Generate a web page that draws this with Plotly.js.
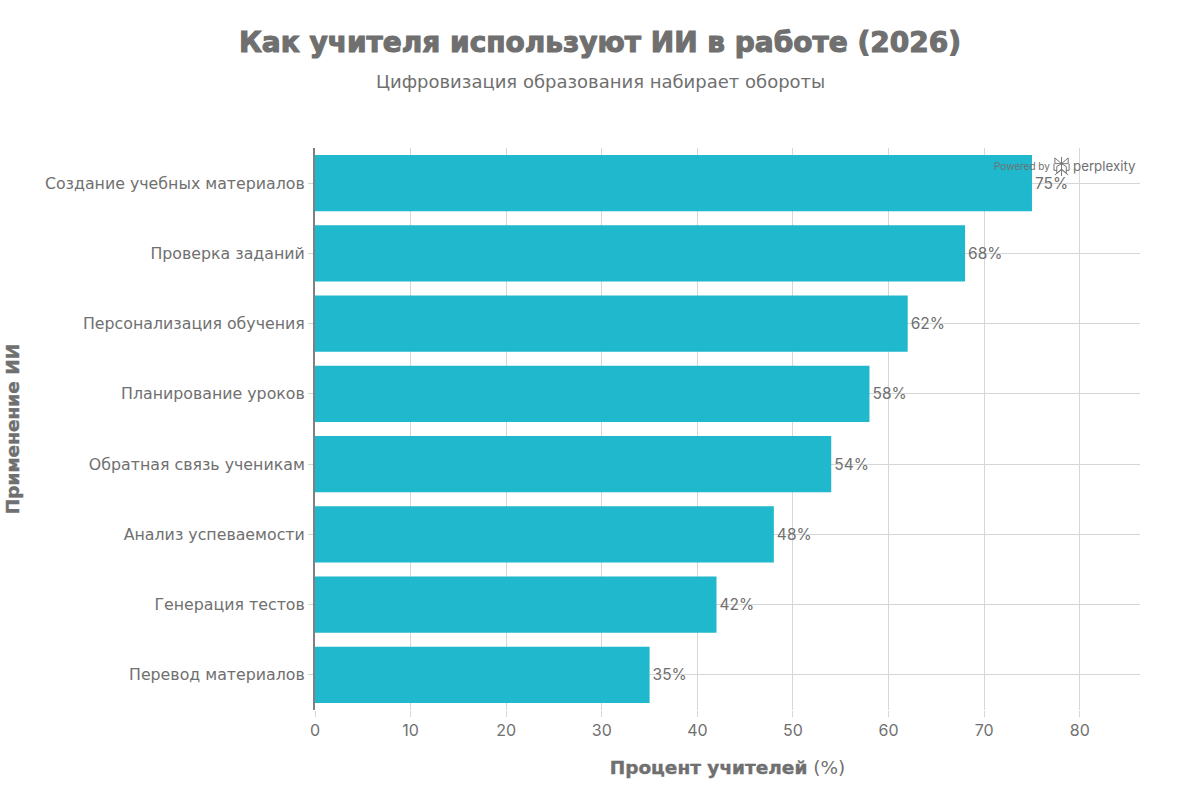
<!DOCTYPE html>
<html><head><meta charset="utf-8">
<script src="https://cdn.plot.ly/plotly-3.0.1.min.js"></script>
<style>html,body{margin:0;padding:0;background:#fff}
.gtitle{stroke:#6f6f6f;stroke-width:1.1px}
.g-ytitle text,.g-xtitle text tspan[style*="bold"]{stroke:#6f6f6f;stroke-width:.4px}
</style></head>
<body><div id="chart" style="width:1200px;height:800px"></div>
<script>
const categories = ["Перевод материалов","Генерация тестов","Анализ успеваемости","Обратная связь ученикам","Планирование уроков","Персонализация обучения","Проверка заданий","Создание учебных материалов"];
const values = [35,42,48,54,58,62,68,75];
const labels = ["35%","42%","48%","54%","58%","62%","68%","75%"];
const xTicks = [0,10,20,30,40,50,60,70,80];
const TXT = "#707070", GRID = "#d6d6d6";
const logo = "data:image/svg+xml;utf8," + encodeURIComponent('<svg xmlns="http://www.w3.org/2000/svg" viewBox="0 0 20 20"><g fill="none" stroke="#6f6f6f" stroke-width="1"><path d="M10 0V20M3 1L10 7L17 1M3 19L10 13L17 19M3 1V7H17V1M2 7V14H5M18 7V14H15M5 10L10 7L15 10M5 10V17L10 13L15 17V10"/></g></svg>');
const L = 314.6, W = 825.4, T = 148, H = 562;
Plotly.newPlot("chart", [{
  type:"bar", orientation:"h", x:values, y:categories,
  marker:{color:"#1fb8cd"}, text:labels, textposition:"outside", cliponaxis:false,
  textfont:{family:"Inter, sans-serif", size:15.5, color:TXT}, hoverinfo:"skip"
}], {
  width:1200, height:800, paper_bgcolor:"#fff", plot_bgcolor:"#fff", showlegend:false,
  margin:{l:L,r:60,t:T,b:90,pad:0}, bargap:0.2,
  font:{family:"DejaVu Sans, sans-serif", color:TXT},
  title:{text:"<b>Как учителя используют ИИ в работе (2026)</b>", x:0.5, xanchor:"center", y:0.947, yanchor:"middle",
    font:{family:"DejaVu Sans", size:28, color:TXT}},
  xaxis:{range:[0,86.3], tickvals:xTicks, ticks:"outside", ticklen:6, tickcolor:GRID, gridcolor:GRID, gridwidth:1, zeroline:false, showline:false,
    tickfont:{family:"Inter, sans-serif", size:16, color:TXT},
    title:{text:"<b>Процент учителей</b> (%)", font:{family:"DejaVu Sans", size:18.5, color:TXT}, standoff:21}},
  yaxis:{ticks:"outside", ticklen:5, tickcolor:GRID, gridcolor:GRID, gridwidth:1, showline:true, linecolor:"#808080", linewidth:2, zeroline:false,
    tickfont:{family:"DejaVu Sans", size:15.8, color:TXT}, categoryorder:"array", categoryarray:categories,
    title:{text:"<b>Применение ИИ</b>", font:{family:"DejaVu Sans", size:18.5, color:TXT}, standoff:20}},
  annotations:[
    {xref:"paper",yref:"paper",x:(600-L)/W,y:1+(T-81.5)/H,xanchor:"center",yanchor:"middle",showarrow:false,text:"Цифровизация образования набирает обороты",font:{family:"DejaVu Sans",size:18,color:TXT}},
    {xref:"paper",yref:"paper",x:(994-L)/W,y:1-(166-T)/H,xanchor:"left",yanchor:"middle",showarrow:false,xshift:-2,text:"Powered by",font:{family:"Inter, sans-serif",size:10,color:TXT}},
    {xref:"paper",yref:"paper",x:(1073-L)/W,y:1-(165.5-T)/H,xanchor:"left",yanchor:"middle",showarrow:false,xshift:-2,text:"perplexity",font:{family:"Inter, sans-serif",size:13.3,color:TXT}}
  ],
  images:[{source:logo,xref:"paper",yref:"paper",x:(1052-L)/W,y:1-(156-T)/H,sizex:19/W,sizey:21/H,xanchor:"left",yanchor:"top",layer:"above"}]
}, {displayModeBar:false, staticPlot:true});
</script></body></html>
